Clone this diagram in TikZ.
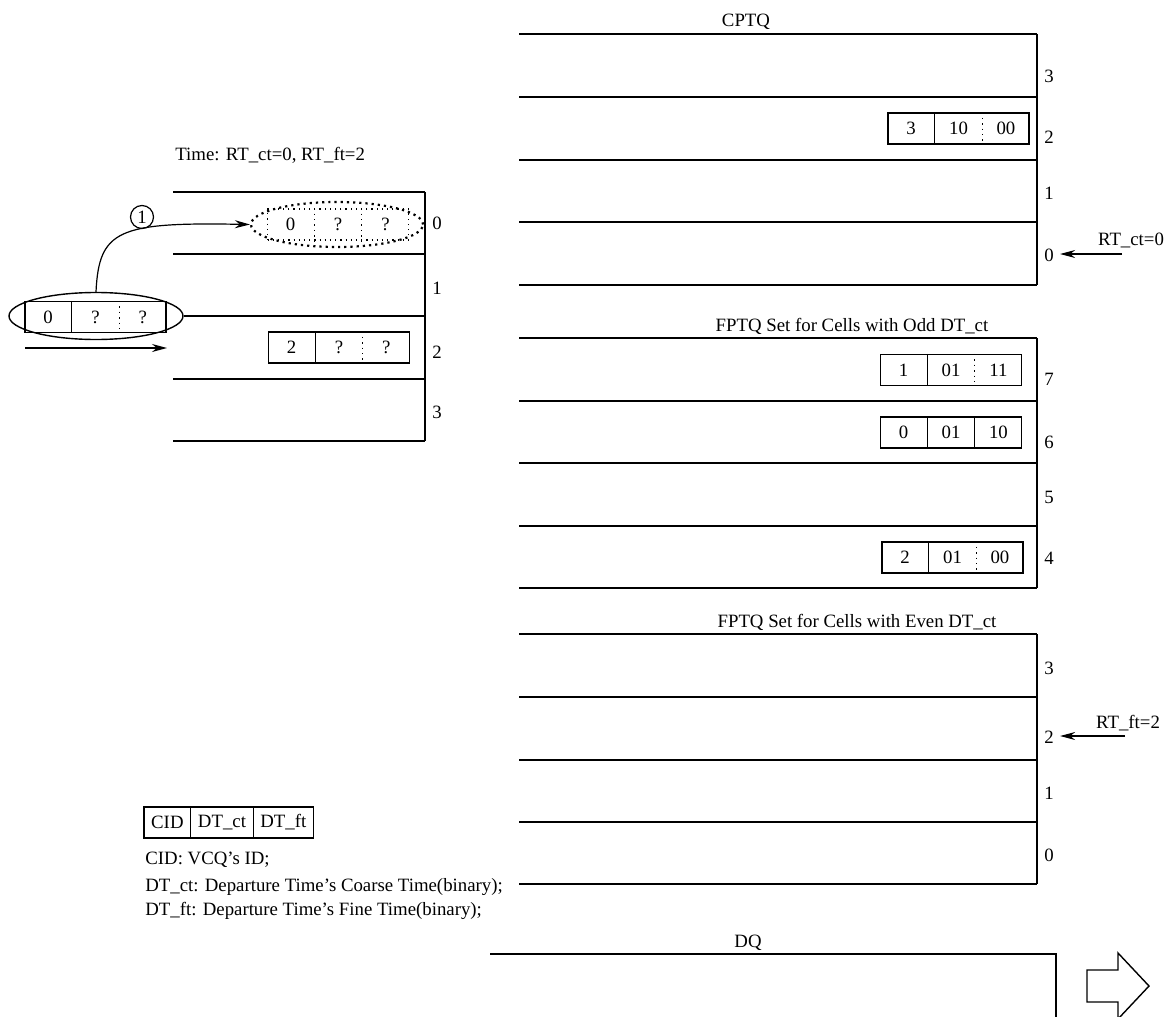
\documentclass[tikz,border=0pt]{standalone}
\usepackage{fontspec}
\setmainfont{Liberation Serif}
\usetikzlibrary{arrows.meta, shapes.geometric, positioning}
\newcommand{\qfont}{\fontsize{9.4}{11}\selectfont}
\tikzset{
  % one pixel of the layout
  px/.style    = {x=0.5pt, y=-0.5pt},
  % a slot border of a queue
  slot/.style  = {line width=0.75pt},
  % a slot index
  idx/.style   = {font=\qfont, inner sep=1pt},
  % plain text
  txt/.style   = {font=\qfont, inner sep=1pt},
  % a cell record (CID | DT_ct | DT_ft)
  rec/.style   = {draw, line width=0.6pt, minimum width=70.5pt,
                  minimum height=15.5pt, inner sep=0pt},
  % one field of the legend record
  field/.style = {draw, line width=0.6pt, font=\qfont, inner xsep=3.6pt,
                  inner ysep=0pt, minimum height=15.5pt, outer sep=0pt},
  % dividers inside a record
  sep/.style   = {line width=0.6pt},
  dsep/.style  = {line width=0.7pt, dotted},
  % a pointer
  ptr/.style   = {-{Stealth[length=7.5pt,width=4pt]}, line width=0.6pt},
}
% #1 extra style of the box, #2 name, #3 centre, #4-#6 fields, #7 #8 dividers
\newcommand{\cellrec}[8][]{%
  \node[rec, #1] (#2) at (#3) {};
  \path (#2.west) -- (#2.east)
    coordinate[pos=1/3] (#2-d1) coordinate[pos=2/3] (#2-d2)
    node[txt, pos=1/6] (#2-a) {#4}
    node[txt, pos=1/2] (#2-b) {#5}
    node[txt, pos=5/6] (#2-c) {#6};
  \draw[#7] (#2-d1 |- #2.north) -- (#2-d1 |- #2.south);
  \draw[#8] (#2-d2 |- #2.north) -- (#2-d2 |- #2.south);
}

\begin{document}
\begin{tikzpicture}[px]
  \useasboundingbox (0,0) rectangle (1170,1016);

  % the incoming cell and its virtual queue
  \node[txt, anchor=west] (now) at (173,155) {Time: RT\_ct=0, RT\_ft=2};
  \node[draw, ellipse, line width=0.7pt, inner sep=0pt,
        minimum width=87pt, minimum height=23.5pt] (ring) at (96,316) {};
  \cellrec{mover}{95.5,317}{0}{?}{?}{sep}{dsep}
  \node[draw, ellipse, dotted, line width=1.1pt, inner sep=0pt,
        minimum width=86pt, minimum height=22.5pt] (ghost-ring) at (337,224.5) {};
  \cellrec[dotted, line width=0.8pt]{ghost}{338,224.5}{0}{?}{?}{dsep}{dsep}
  \cellrec{vq2}{339,347.5}{2}{?}{?}{sep}{dsep}
  \foreach \y in {192,254,379,441}
    \draw[slot] (173,\y) -- (425,\y);
  \draw[slot] (ring.east) -- (425,316);
  \draw[slot] (425,192) -- (425,441);
  \foreach \l/\y in {0/223,1/288,2/352,3/412}
    \node[idx] (vq-\l) at (437,\y) {\l};
  \draw[ptr] (ring.north) .. controls (99,230) and (118,222) .. (ghost-ring.west);
  \node[draw, circle, line width=0.6pt, font=\qfont, inner sep=0.5pt,
        minimum size=11.5pt] (step1) at (142,217) {1};
  \coordinate (push-a) at (25,348);
  \coordinate (push-b) at (167,348);
  \draw[ptr] (push-a) -- (push-b);

  % CPTQ
  \node[txt] (cq-title) at (746,22) {CPTQ};
  \foreach \y in {34,97,160,222,285}
    \draw[slot] (519,\y) -- (1037,\y);
  \draw[slot] (1037,34) -- (1037,285);
  \foreach \l/\y in {3/76,2/137,1/193,0/255}
    \node[idx] (cq-\l) at (1049,\y) {\l};
  \cellrec{cq-cell}{958.5,128.5}{3}{10}{00}{sep}{dsep}
  \node[txt] (ct-lab) at (1131,240) {RT\_ct=0};
  \coordinate (ct-tail) at (1122,254);
  \draw[ptr, shorten >=2pt] (ct-tail) -- (ct-tail -| cq-0.east);

  % FPTQ, odd DT_ct
  \node[txt] (oq-title) at (852,326) {FPTQ Set for Cells with Odd DT\_ct};
  \foreach \y in {338,401,463,526,588}
    \draw[slot] (519,\y) -- (1037,\y);
  \draw[slot] (1037,338) -- (1037,588);
  \foreach \l/\y in {7/379,6/442,5/497,4/558}
    \node[idx] (oq-\l) at (1049,\y) {\l};
  \cellrec{oq-c7}{951,370}{1}{01}{11}{sep}{dsep}
  \cellrec{oq-c6}{951,432.5}{0}{01}{10}{sep}{sep}
  \cellrec{oq-c4}{952.5,557.5}{2}{01}{00}{sep}{dsep}

  % FPTQ, even DT_ct
  \node[txt] (eq-title) at (857,622) {FPTQ Set for Cells with Even DT\_ct};
  \foreach \y in {634,697,760,822,884}
    \draw[slot] (519,\y) -- (1037,\y);
  \draw[slot] (1037,634) -- (1037,884);
  \foreach \l/\y in {3/668,2/737,1/793,0/855}
    \node[idx] (eq-\l) at (1049,\y) {\l};
  \node[txt] (ft-lab) at (1128,723) {RT\_ft=2};
  \coordinate (ft-tail) at (1125,736);
  \draw[ptr, shorten >=2pt] (ft-tail) -- (ft-tail -| eq-2.east);

  % DQ
  \node[txt] (dq-title) at (748,943) {DQ};
  \draw[slot] (490,954) -- (1056,954) -- (1056,1020);
  \draw[line width=0.7pt] (1087,970) -- (1118,970) -- (1118,953) -- (1149,986)
    -- (1118,1019) -- (1118,1002) -- (1087,1002) -- cycle;

  % legend
  \node[field, anchor=west] (leg-cid) at (144,822.5) {CID};
  \node[field, right=0pt of leg-cid] (leg-ct) {DT\_ct};
  \node[field, right=0pt of leg-ct] (leg-ft) {DT\_ft};
  \node[txt, anchor=west] (leg-1) at (143,860) {CID: VCQ's ID;};
  \node[txt, anchor=west] (leg-2) at (143,887) {DT\_ct: Departure Time's Coarse Time(binary);};
  \node[txt, anchor=west] (leg-3) at (143,911) {DT\_ft: Departure Time's Fine Time(binary);};
\end{tikzpicture}
\end{document}
